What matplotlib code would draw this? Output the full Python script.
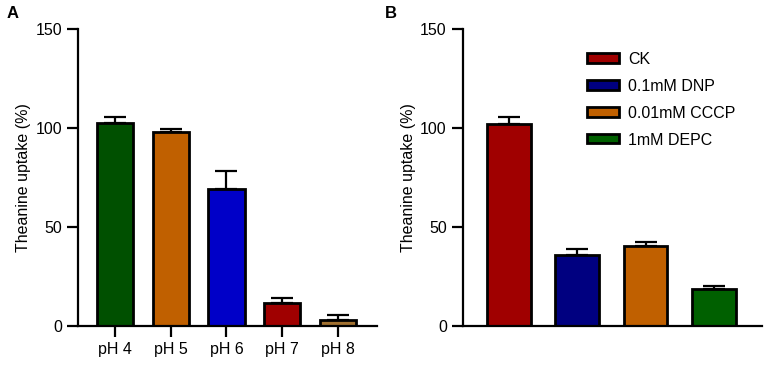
import numpy as np
import matplotlib.pyplot as plt
from matplotlib.patches import Patch

plt.rcParams['font.family'] = ['Liberation Sans', 'DejaVu Sans']

## panel A data
ph_labels = ['pH 4', 'pH 5', 'pH 6', 'pH 7', 'pH 8']
ph_values = [102.5, 98.0, 69.0, 11.8, 3.0]
ph_errors = [3.0, 1.2, 9.0, 2.5, 2.4]
ph_colors = ['#005000', '#c06000', '#0000c8', '#a00000', '#a07030']

## panel B data
trt_labels = ['CK', '0.1mM DNP', '0.01mM CCCP', '1mM DEPC']
trt_values = [102.0, 35.7, 40.4, 18.8]
trt_errors = [3.3, 3.2, 1.9, 1.2]
trt_colors = ['#a00000', '#000080', '#c06000', '#006000']

FS = 11.5

fig = plt.figure(figsize=(7.65, 3.65), dpi=100)
axA = fig.add_axes([0.102, 0.107, 0.391, 0.814])
axB = fig.add_axes([0.605, 0.107, 0.391, 0.814])


def style_axis(ax):
    for side in ['top', 'right']:
        ax.spines[side].set_visible(False)
    for side in ['left', 'bottom']:
        ax.spines[side].set_linewidth(1.6)
    ax.set_ylim(0, 150)
    ax.set_yticks([0, 50, 100, 150])
    ax.tick_params(axis='both', width=1.6, length=8, labelsize=FS, direction='out')
    ax.set_ylabel('Theanine uptake (%)', fontsize=FS, labelpad=3)


x = np.arange(len(ph_labels))
axA.bar(x, ph_values, width=0.65, color=ph_colors, edgecolor='black', linewidth=2, zorder=2)
axA.errorbar(x, ph_values, yerr=[np.zeros(len(x)), ph_errors], fmt='none',
             ecolor='black', elinewidth=1.6, capsize=8, capthick=1.6, zorder=1)
axA.set_xlim(-0.66, 4.70)
axA.set_xticks(x)
axA.set_xticklabels(ph_labels)
style_axis(axA)

xb = np.arange(len(trt_labels))
axB.bar(xb, trt_values, width=0.64, color=trt_colors, edgecolor='black', linewidth=2, zorder=2)
axB.errorbar(xb, trt_values, yerr=[np.zeros(len(xb)), trt_errors], fmt='none',
             ecolor='black', elinewidth=1.6, capsize=8, capthick=1.6, zorder=1)
axB.set_xlim(-0.67, 3.70)
axB.set_xticks([])
style_axis(axB)

handles = [Patch(facecolor=c, edgecolor='black', linewidth=2) for c in trt_colors]
axB.legend(handles, trt_labels, loc='upper left', bbox_to_anchor=(0.387, 0.95),
           frameon=False, fontsize=FS, handlelength=2.0, handleheight=0.5,
           labelspacing=0.75, handletextpad=0.6, borderpad=0)

fig.text(0.008, 0.963, 'A', fontsize=12, fontweight='bold', va='center')
fig.text(0.503, 0.963, 'B', fontsize=12, fontweight='bold', va='center')

plt.savefig('out.png', dpi=100)
